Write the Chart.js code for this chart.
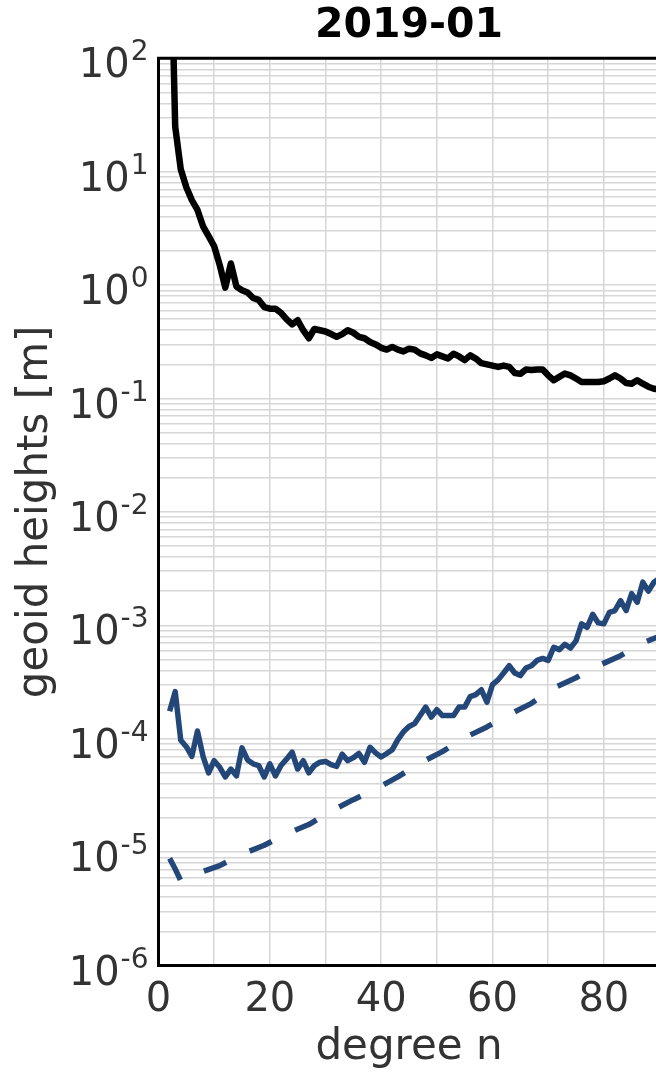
<!DOCTYPE html>
<html>
<head>
<meta charset="utf-8">
<script src="https://cdn.jsdelivr.net/npm/chart.js@4/dist/chart.umd.min.js"></script>
<style>
  html, body { margin: 0; padding: 0; background: #fff; overflow: hidden; }
  #wrap { width: 656px; height: 1075px; overflow: hidden; }
</style>
</head>
<body>
<div id="wrap"><canvas id="c" width="680" height="1075"></canvas></div>
<script>
// degree n
const degrees = [2, 3, 4, 5, 6, 7, 8, 9, 10, 11, 12, 13, 14, 15, 16, 17, 18, 19, 20, 21,
  22, 23, 24, 25, 26, 27, 28, 29, 30, 31, 32, 33, 34, 35, 36, 37, 38, 39, 40, 41,
  42, 43, 44, 45, 46, 47, 48, 49, 50, 51, 52, 53, 54, 55, 56, 57, 58, 59, 60, 61,
  62, 63, 64, 65, 66, 67, 68, 69, 70, 71, 72, 73, 74, 75, 76, 77, 78, 79, 80, 81,
  82, 83, 84, 85, 86, 87, 88, 89, 90];

// signal degree amplitudes [m] (black)
const signal = [3000, 25, 10.5, 7.3, 5.6, 4.6, 3.3, 2.7, 2.2, 1.5, 0.95, 1.55, 0.97, 0.9, 0.86, 0.77, 0.74, 0.64, 0.62, 0.62,
  0.57, 0.5, 0.45, 0.49, 0.4, 0.34, 0.41, 0.4, 0.39, 0.37, 0.35, 0.37, 0.4, 0.38, 0.35, 0.34, 0.315, 0.3, 0.28, 0.27,
  0.285, 0.27, 0.26, 0.275, 0.27, 0.25, 0.24, 0.228, 0.245, 0.235, 0.225, 0.248, 0.235, 0.218, 0.24, 0.225, 0.205, 0.2, 0.195, 0.19,
  0.195, 0.19, 0.168, 0.165, 0.18, 0.178, 0.18, 0.18, 0.16, 0.145, 0.155, 0.166, 0.16, 0.15, 0.14, 0.14, 0.14, 0.14, 0.142, 0.15,
  0.16, 0.15, 0.137, 0.135, 0.145, 0.135, 0.127, 0.122, 0.12];

// error degree amplitudes [m] (blue, solid)
const errors = [1.75e-4, 2.6e-4, 9.7e-5, 8.5e-5, 7.0e-5, 1.17e-4, 7.0e-5, 5.0e-5, 6.4e-5, 5.6e-5, 4.6e-5, 5.4e-5, 4.7e-5, 8.3e-5, 6.5e-5, 6.0e-5, 5.8e-5, 4.6e-5, 6.0e-5, 4.7e-5,
  5.8e-5, 6.6e-5, 7.6e-5, 5.4e-5, 6.4e-5, 5.0e-5, 5.8e-5, 6.2e-5, 6.3e-5, 5.9e-5, 5.7e-5, 7.3e-5, 6.4e-5, 6.8e-5, 7.4e-5, 6.2e-5, 8.4e-5, 7.5e-5, 6.9e-5, 7.4e-5,
  8.0e-5, 9.8e-5, 1.15e-4, 1.28e-4, 1.36e-4, 1.6e-4, 1.9e-4, 1.55e-4, 1.8e-4, 1.6e-4, 1.6e-4, 1.6e-4, 1.9e-4, 1.9e-4, 2.35e-4, 2.45e-4, 2.7e-4, 2.1e-4, 3.0e-4, 3.3e-4,
  3.8e-4, 4.4e-4, 3.8e-4, 3.6e-4, 4.2e-4, 4.4e-4, 4.9e-4, 5.1e-4, 4.9e-4, 6.4e-4, 6.1e-4, 6.8e-4, 6.3e-4, 7.3e-4, 1.03e-3, 9.6e-4, 1.25e-3, 1.05e-3, 1.03e-3, 1.3e-3,
  1.35e-3, 1.65e-3, 1.35e-3, 1.9e-3, 1.6e-3, 2.4e-3, 2.0e-3, 2.4e-3, 2.6e-3];

// model errors (blue, dashed)
const modelDegrees = [2, 3, 4, 5, 7, 11, 15, 19, 23, 27, 31, 35, 39, 43, 47, 51, 55, 59, 63, 67, 71, 75, 79, 83, 87, 90];
const modelErrors = [8.8e-6, 7.1e-6, 5.6e-6, 5.8e-6, 6.5e-6, 7.6e-6, 9.6e-6, 1.15e-5, 1.45e-5, 1.75e-5, 2.3e-5, 2.9e-5, 3.6e-5,
  4.6e-5, 6.1e-5, 7.7e-5, 1.02e-4, 1.27e-4, 1.63e-4, 2.05e-4, 2.8e-4, 3.45e-4, 4.4e-4, 5.4e-4, 7.0e-4, 8.0e-4];

// axes
const xGrid = [0, 10, 20, 30, 40, 50, 60, 70, 80, 90];
const xTickLabels = [0, 20, 40, 60, 80];
const yExps = [-6, -5, -4, -3, -2, -1, 0, 1, 2];
const yMinor = [1, 2, 3, 4, 5, 6, 7, 8, 9];

const font = "DejaVu Sans";
const blue = "#24477a";
const gridColor = "#d6d6d6";

Chart.defaults.font.family = font;

const frame = {
    id: "frame",
    afterDatasetsDraw(chart) {
        const {ctx, chartArea: a} = chart;
        ctx.save();
        ctx.strokeStyle = "#000";
        ctx.lineWidth = 3;
        ctx.beginPath();
        ctx.moveTo(a.left - 1.5, a.top);
        ctx.lineTo(a.right + 1.5, a.top);
        ctx.moveTo(a.right, a.top);
        ctx.lineTo(a.right, a.bottom);
        ctx.stroke();
        ctx.restore();
    }
};

// y tick labels as 10 with a superscript exponent
const powerLabels = {
    id: "powerLabels",
    afterDraw(chart) {
        const {ctx} = chart;
        const y = chart.scales.y;
        const right = y.right - 10;
        ctx.save();
        ctx.fillStyle = "#333";
        ctx.textAlign = "right";
        ctx.textBaseline = "alphabetic";
        yExps.forEach(e => {
            const py = y.getPixelForValue(Math.pow(10, e));
            const exp = String(e);
            ctx.font = `28px "${font}"`;
            const ew = ctx.measureText(exp).width;
            ctx.fillText(exp, right, py + 2);
            ctx.font = `40px "${font}"`;
            ctx.fillText("10", right - ew - 1, py + 19);
        });
        ctx.restore();
    }
};

const toPoints = (xs, ys) => xs.map((x, i) => ({x: x, y: ys[i]}));

new Chart(document.getElementById("c"), {
    type: "line",
    data: {
        datasets: [{
            label: "signal",
            data: toPoints(degrees, signal),
            borderColor: "#000",
            borderWidth: 6.5,
            borderJoinStyle: "round",
            pointRadius: 0,
            clip: 0
        }, {
            label: "errors",
            data: toPoints(degrees, errors),
            borderColor: blue,
            borderWidth: 5.5,
            borderJoinStyle: "round",
            pointRadius: 0,
            clip: 0
        }, {
            label: "model",
            data: toPoints(modelDegrees, modelErrors),
            borderColor: blue,
            borderWidth: 5.5,
            borderDash: [24, 26],
            borderJoinStyle: "round",
            pointRadius: 0,
            clip: 0
        }]
    },
    options: {
        responsive: false,
        animation: false,
        layout: {
            padding: {left: 0, top: 0, right: 20.5, bottom: 0}
        },
        scales: {
            x: {
                type: "linear",
                position: "bottom",
                min: 0,
                max: 90,
                afterBuildTicks: (axis) => {
                    axis.ticks = xGrid.map(v => ({value: v}));
                },
                afterFit: (axis) => {
                    axis.height = 109.5;
                },
                grid: {
                    color: gridColor,
                    lineWidth: 1.5,
                    drawTicks: false
                },
                border: {
                    display: true,
                    color: "#000",
                    width: 3
                },
                ticks: {
                    autoSkip: false,
                    maxRotation: 0,
                    padding: 10.7,
                    color: "#333",
                    font: {
                        size: 40
                    },
                    callback: (v) => xTickLabels.includes(v) ? String(v) : ""
                },
                title: {
                    display: true,
                    text: "degree n",
                    color: "#333",
                    padding: {top: 0, bottom: 1.3},
                    font: {
                        size: 42
                    }
                }
            },
            y: {
                type: "logarithmic",
                position: "left",
                min: 1e-6,
                max: 100,
                afterBuildTicks: (axis) => {
                    const ticks = [];
                    yExps.forEach(e => {
                        if (e === yExps[yExps.length - 1]) {
                            ticks.push({value: Math.pow(10, e)});
                            return;
                        }
                        yMinor.forEach(m => ticks.push({value: m * Math.pow(10, e)}));
                    });
                    axis.ticks = ticks;
                },
                afterFit: (axis) => {
                    axis.width = 158.5;
                },
                grid: {
                    color: gridColor,
                    lineWidth: 1.5,
                    drawTicks: false
                },
                border: {
                    display: true,
                    color: "#000",
                    width: 3
                },
                ticks: {
                    display: false
                },
                title: {
                    display: true,
                    text: "geoid heights [m]",
                    color: "#333",
                    padding: {top: 11.2, bottom: 0},
                    font: {
                        size: 42
                    }
                }
            }
        },
        plugins: {
            legend: {
                display: false
            },
            tooltip: {
                enabled: false
            },
            title: {
                display: true,
                text: "2019-01",
                color: "#000",
                fullSize: false,
                padding: {top: 2.2, bottom: 6.9},
                font: {
                    size: 41,
                    weight: "bold"
                }
            }
        }
    },
    plugins: [frame, powerLabels]
});
</script>
</body>
</html>
